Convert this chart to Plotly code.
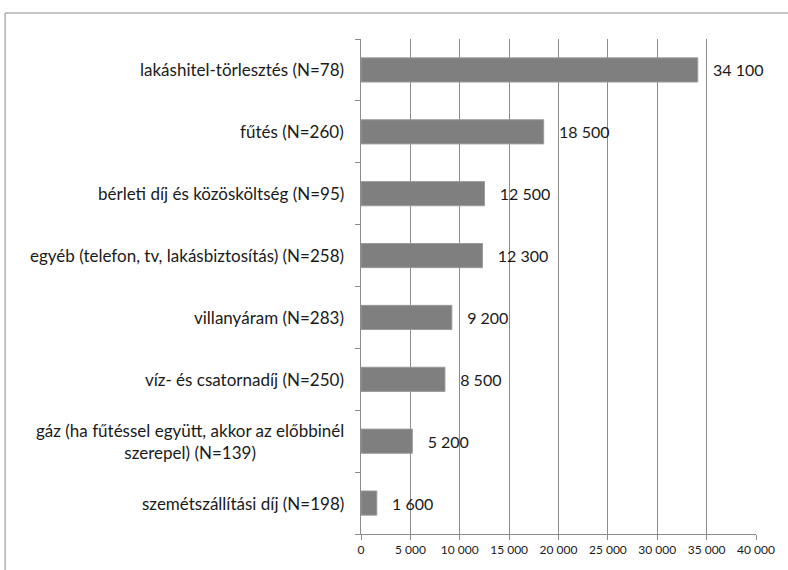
import plotly.graph_objects as go

# Monthly housing costs (HUF), top to bottom as in the report
categories = [
    "lakáshitel-törlesztés (N=78)",
    "fűtés (N=260)",
    "bérleti díj és közösköltség (N=95)",
    "egyéb (telefon, tv, lakásbiztosítás) (N=258)",
    "villanyáram (N=283)",
    "víz- és csatornadíj (N=250)",
    "gáz (ha fűtéssel együtt, akkor az előbbinél<br>szerepel) (N=139)",
    "szemétszállítási díj (N=198)",
]
values = [34100, 18500, 12500, 12300, 9200, 8500, 5200, 1600]
x_ticks = [0, 5000, 10000, 15000, 20000, 25000, 30000, 35000, 40000]

FONT = "Lato, Liberation Sans, sans-serif"
GRID = "#8c8c8c"

fig = go.Figure()

fig.add_trace(go.Bar(
    x=values,
    y=categories,
    orientation="h",
    marker=dict(color="#7f7f7f", line=dict(color="#9a9a9a", width=1)),
    text=values,
    texttemplate="\u00a0\u00a0\u00a0%{x:,d}",
    textposition="outside",
    constraintext="none",
    cliponaxis=False,
    textfont=dict(family=FONT, size=16, color="#1a1a1a"),
    width=0.39,
))

# category labels as annotations so the wrapped one can be centred
for cat in categories:
    fig.add_annotation(
        x=0, xref="paper", y=cat, yref="y",
        text=cat, showarrow=False,
        xanchor="right", align="center", xshift=-15,
        font=dict(family=FONT, size=17, color="#1a1a1a"),
    )

# outer chart border (only top and left visible in the crop)
fig.add_shape(type="line", xref="paper", yref="paper",
              x0=-0.901, x1=1.2, y0=1.0525, y1=1.0525,
              line=dict(color="#8c8c8c", width=1))
fig.add_shape(type="line", xref="paper", yref="paper",
              x0=-0.901, x1=-0.901, y0=1.0525, y1=-0.2,
              line=dict(color="#8c8c8c", width=1))

fig.update_layout(
    width=788,
    height=570,
    margin=dict(l=361, r=32, t=39, b=36),
    paper_bgcolor="white",
    plot_bgcolor="white",
    separators=", ",
    showlegend=False,
    xaxis=dict(
        range=[0, 40000],
        tickvals=x_ticks,
        tickformat=",d",
        showgrid=True, gridcolor=GRID, gridwidth=1,
        showline=True, linecolor=GRID, linewidth=1,
        ticks="outside", ticklen=5, tickcolor=GRID,
        zeroline=False,
        tickfont=dict(family=FONT, size=12, color="#1a1a1a"),
    ),
    yaxis=dict(
        categoryorder="array",
        categoryarray=categories[::-1],
        showticklabels=False,
        showline=True, linecolor=GRID, linewidth=1,
        ticks="outside", ticklen=5, tickcolor=GRID,
        tickson="boundaries",
        showgrid=False,
    ),
)

# drop the default body margin so the figure sits at the window's corner
fig.write_html(
    "out.html",
    config={"displayModeBar": False},
    post_script="document.body.style.margin='0';",
)
